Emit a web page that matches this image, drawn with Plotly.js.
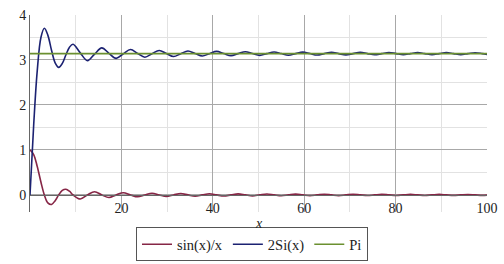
<!DOCTYPE html>
<html>
<head>
<meta charset="utf-8">
<script src="https://cdn.plot.ly/plotly-3.0.1.min.js"></script>
<style>html,body{margin:0;padding:0;background:#fff;}#chart{width:504px;height:264px;}</style>
</head>
<body>
<div id="chart"></div>
<script>
const xs = [0, 0.8, 1.57, 2.4, 3.14, 3.9, 4.71, 5.5, 6.28, 7.07, 7.85, 8.64, 9.42,
  11.0, 12.57, 14.14, 15.71, 17.28, 18.85, 20.42, 21.99, 23.56, 25.13, 26.70, 28.27,
  29.85, 31.42, 32.99, 34.56, 36.13, 37.70, 39.27, 40.84, 42.41, 43.98, 45.55, 47.12,
  48.69, 50.27, 51.84, 53.41, 54.98, 56.55, 58.12, 59.69, 61.26, 62.83, 64.40, 65.97,
  67.54, 69.12, 70.69, 72.26, 73.83, 75.40, 76.97, 78.54, 80.11, 81.68, 83.25, 84.82,
  86.39, 87.96, 89.54, 91.11, 92.68, 94.25, 95.82, 97.39, 98.96, 100];

const sincValues = [1, 0.897, 0.637, 0.281, 0, -0.176, -0.212, -0.128, 0, 0.100, 0.127, 0.082, 0,
  -0.091, 0, 0.071, 0, -0.058, 0, 0.049, 0, -0.042, 0, 0.037, 0,
  -0.034, 0, 0.030, 0, -0.028, 0, 0.025, 0, -0.024, 0, 0.022, 0,
  -0.021, 0, 0.019, 0, -0.018, 0, 0.017, 0, -0.016, 0, 0.016, 0,
  -0.015, 0, 0.014, 0, -0.014, 0, 0.013, 0, -0.012, 0, 0.012, 0,
  -0.012, 0, 0.011, 0, -0.011, 0, 0.010, 0, -0.010, -0.005];

const siValues = [0, 1.544, 2.742, 3.505, 3.704, 3.553, 3.217, 2.937, 2.836, 2.923, 3.111, 3.284, 3.350,
  3.158, 2.984, 3.132, 3.268, 3.148, 3.036, 3.137, 3.232, 3.145, 3.062, 3.139, 3.212,
  3.144, 3.078, 3.140, 3.199, 3.143, 3.088, 3.141, 3.191, 3.142, 3.096, 3.141, 3.184,
  3.142, 3.102, 3.141, 3.179, 3.142, 3.106, 3.141, 3.175, 3.142, 3.110, 3.141, 3.172,
  3.142, 3.113, 3.141, 3.169, 3.142, 3.115, 3.141, 3.167, 3.142, 3.117, 3.141, 3.165,
  3.142, 3.119, 3.141, 3.164, 3.142, 3.120, 3.141, 3.162, 3.142, 3.124];

const piX = [0, 100];
const piValues = [3.1416, 3.1416];

const seriesNames = ['sin(x)/x', '2Si(x)', 'Pi'];
const xTickVals = [0, 20, 40, 60, 80, 100];
const xTickText = ['', '20', '40', '60', '80', '100'];
const yTickVals = [0, 1, 2, 3, 4];
const xTitle = '<i>x</i>';

const font = '"Liberation Serif", "Times New Roman", Times, serif';

const traces = [
  {x: xs, y: sincValues, name: seriesNames[0], mode: 'lines',
   line: {color: '#862646', width: 1.6, shape: 'spline'}},
  {x: xs, y: siValues, name: seriesNames[1], mode: 'lines',
   line: {color: '#1c2272', width: 1.6, shape: 'spline'}},
  {x: piX, y: piValues, name: seriesNames[2], mode: 'lines',
   line: {color: '#6b9030', width: 1.6}}
];

const layout = {
  width: 504, height: 264,
  margin: {l: 30, r: 17, t: 15, b: 52},
  paper_bgcolor: '#fff', plot_bgcolor: '#fff',
  font: {family: font, size: 14, color: '#222'},
  showlegend: true,
  xaxis: {
    range: [0, 100], tickmode: 'array', tickvals: xTickVals, ticktext: xTickText,
    showgrid: true, gridcolor: '#a8a8a8', gridwidth: 1,
    minor: {tickmode: 'linear', tick0: 0, dtick: 10, showgrid: true, gridcolor: '#e2e2e2', ticks: ''},
    zeroline: false, showline: true, linecolor: '#666', linewidth: 1,
    anchor: 'free', position: 0.0878, ticks: '',
    tickfont: {family: font, size: 14, color: '#222'}
  },
  yaxis: {
    range: [-0.38, 4], tickmode: 'array', tickvals: yTickVals,
    showgrid: true, gridcolor: '#a8a8a8', gridwidth: 1,
    minor: {tickmode: 'linear', tick0: 0, dtick: 0.5, showgrid: true, gridcolor: '#e2e2e2', ticks: ''},
    zeroline: false, showline: true, linecolor: '#666', linewidth: 1, ticks: '',
    tickfont: {family: font, size: 14, color: '#222'}
  },
  annotations: [{
    text: xTitle, xref: 'paper', yref: 'paper', x: 0.5, y: -0.058,
    xanchor: 'center', yanchor: 'middle', showarrow: false,
    font: {family: font, size: 14, color: '#222'}
  }],
  legend: {
    orientation: 'h', xref: 'container', yref: 'container',
    x: 0.5, xanchor: 'center', y: 0.01, yanchor: 'bottom',
    bordercolor: '#555', borderwidth: 1, bgcolor: 'rgba(0,0,0,0)',
    font: {family: font, size: 14.5, color: '#222'}
  }
};

Plotly.newPlot('chart', traces, layout, {displayModeBar: false, staticPlot: true});
</script>
</body>
</html>
